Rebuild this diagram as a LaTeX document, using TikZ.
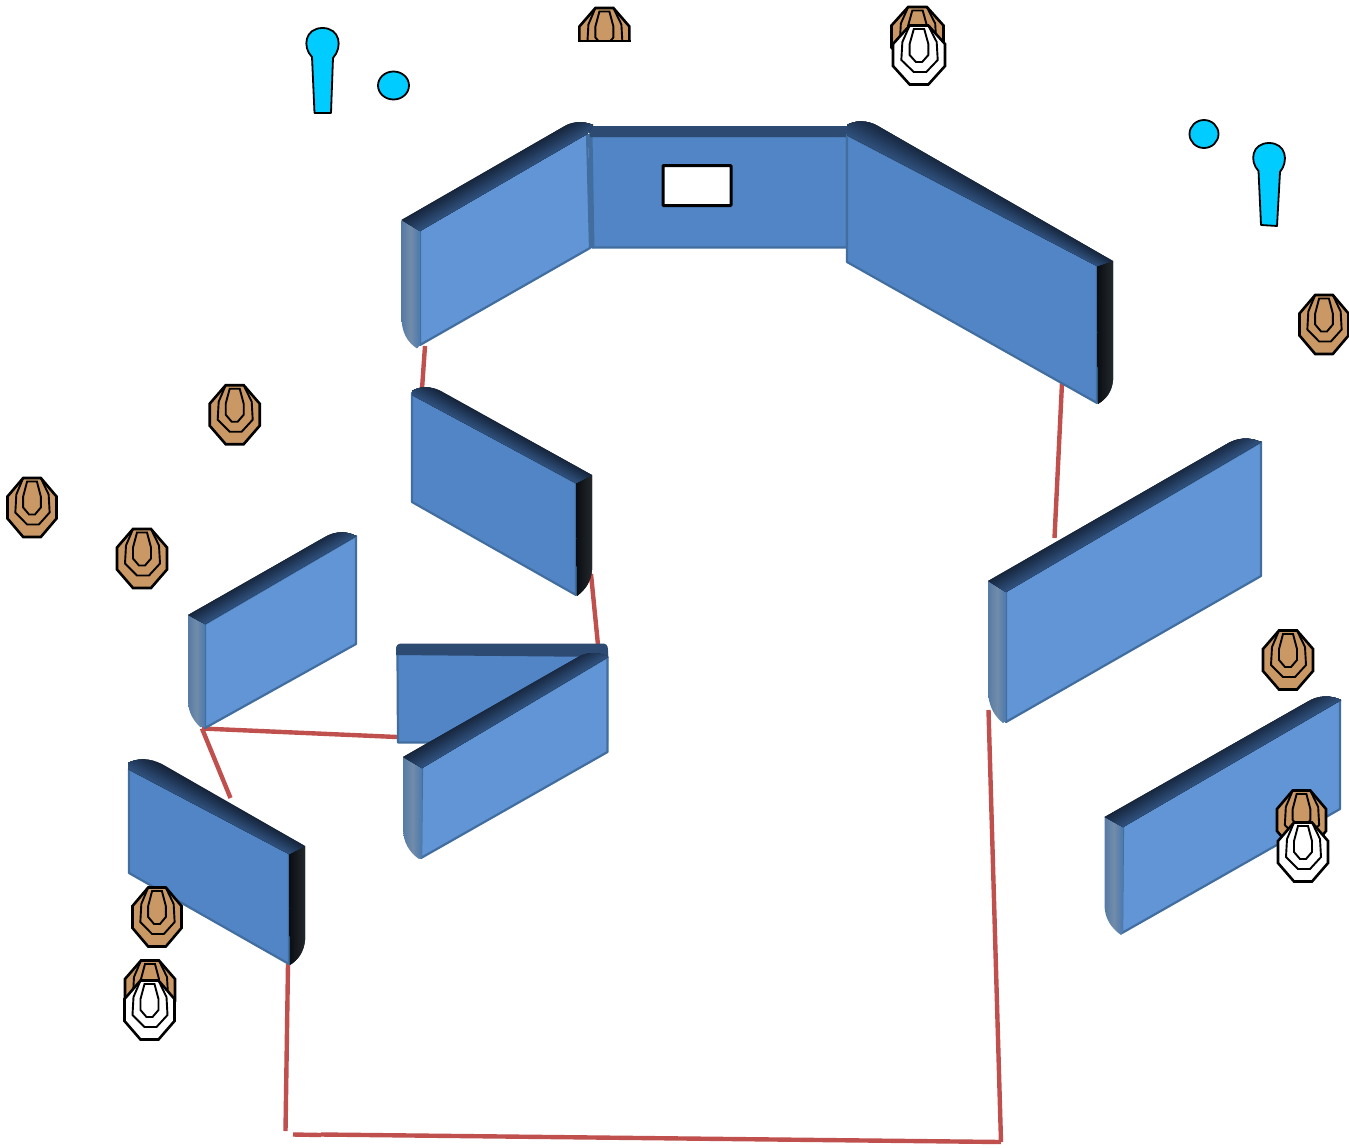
\documentclass[tikz,border=0pt]{standalone}
\usetikzlibrary{calc}
\definecolor{faceL}{HTML}{6295D6}
\definecolor{faceD}{HTML}{5285C6}
\definecolor{wallEdge}{HTML}{416E9F}
\definecolor{stripOut}{HTML}{152238}
\definecolor{stripIn}{HTML}{2E4F7A}
\definecolor{stripFlat}{HTML}{2C4A72}
\definecolor{redLine}{HTML}{C0504D}
\definecolor{pinBlue}{HTML}{00CCFF}
\definecolor{targetBrown}{HTML}{C99864}
\definecolor{greyA}{HTML}{567AA6}
\definecolor{greyB}{HTML}{4C79AE}
\definecolor{greyC}{HTML}{718CA9}
\definecolor{blackA}{HTML}{0A0E12}
\definecolor{blackB}{HTML}{23282D}
\tikzset{
  redline/.style={draw=redLine,line width=4.4pt},
  lightface/.style={fill=faceL,draw=wallEdge,line width=2.2pt,line join=round},
  darkface/.style={fill=faceD,draw=wallEdge,line width=2.2pt,line join=round},
  greyside/.style={left color=greyA,right color=greyB,middle color=greyC},
  blackside/.style={preaction={fill=blackA},left color=blackA,right color=blackB},
  pinshape/.style={fill=pinBlue,draw=black,line width=1.8pt,line join=round},
  ring/.style={draw=black,line width=1.9pt,line join=miter},
  outerring/.style={draw=black,line width=2.6pt,line join=miter}
}
% strip: clip path, outer edge P Q, inner edge R S
\newcommand{\wallstrip}[5]{%
  \begin{scope}
    \clip #1;
    \fill[stripOut] ($#2!-0.6!#4$) -- ($#3!-0.6!#5$) -- ($#3!1.2!#5$) -- ($#2!1.2!#4$) -- cycle;
    \foreach \i in {1,...,12}{
      \pgfmathsetmacro{\aa}{(\i-1)/12}
      \pgfmathsetmacro{\pp}{\i/12*100}
      \fill[stripIn!\pp!stripOut] ($#2!\aa!#4$) -- ($#3!\aa!#5$) -- ($#3!1.2!#5$) -- ($#2!1.2!#4$) -- cycle;
    }
  \end{scope}}
% target: [xscale] x y fill
\newcommand{\targetbody}[4][1]{%
  \begin{scope}[shift={(#2,#3)},xscale=#1]
    \draw[outerring,fill=#4] (-9,-29.5)--(9,-29.5)--(25,-11)--(25,11)--(9,29.5)--(-9,29.5)--(-25,11)--(-25,-11)--cycle;
    \draw[ring] (-9,-29.5)--(-16,-13)--(-17,5)--(-5,17)--(7,17)--(18,5)--(17,-13)--(9,-29.5);
    \draw[ring] (-5,-26)--(-9,-11)--(-9,0)--(-3,7)--(3,7)--(9,0)--(9,-11)--(5,-26)--cycle;
  \end{scope}}
\begin{document}
\begin{tikzpicture}[x=1pt,y=-1pt]
\useasboundingbox (0,0) rectangle (1349,1148);
\fill[white] (0,0) rectangle (1349,1148);

% connector end points
\coordinate (r1a) at (425,346); \coordinate (r1b) at (422,389);
\coordinate (r2a) at (1062,383); \coordinate (r2b) at (1054.5,538);
\coordinate (r3a) at (591,574); \coordinate (r3b) at (598,645);
\coordinate (r4a) at (202,728.5); \coordinate (r4b) at (397,737);
\coordinate (r5a) at (202,728.5); \coordinate (r5b) at (230.5,798);
\coordinate (r6a) at (288,964); \coordinate (r6b) at (285.5,1131);
\coordinate (r7a) at (293,1134.5); \coordinate (r7b) at (321,1135);
\coordinate (r8a) at (321,1134.5); \coordinate (r8c) at (1001,1142);
\coordinate (r9a) at (988.5,710);
\draw[redline] (r1a)--(r1b);
\draw[redline] (r2a)--(r2b);
\draw[redline] (r3a)--(r3b);
\draw[redline] (r4a)--(r4b);
\draw[redline] (r5a)--(r5b);
\draw[redline] (r6a)--(r6b);
\draw[redline] (r7a)--(r7b);
\draw[redline] (r8a)--(r8c);
\draw[redline] (r9a)--(r8c);

% wall B (centre back)
\draw[darkface] (590,136)--(847,136)--(847,247.5)--(592,247.5)--cycle;
\fill[wallEdge] (588,134)--(592.5,134)--(594.5,248)--(590,248)--cycle;
\fill[stripFlat] (588,126)--(848,126)--(848,137)--(590,137)--cycle;
\node[draw=black,fill=white,line width=3pt,rounded corners=0.8pt,minimum width=68pt,minimum height=40pt,inner sep=0pt] (window) at (697,185.5) {};

% wall A
\draw[lightface] (420,229)--(587,133)--(590,248)--(420,345)--cycle;
\shade[greyside] (401.5,220)--(420,230)--(420,345)--(417,348.5) .. controls (407,342) and (401.5,332) .. (401.5,317)--cycle;
\wallstrip{(401.5,220)--(563,127) .. controls (572,121) and (584,121) .. (593,125)--(587,134)--(420,231)--cycle}{(401.5,220)}{(600,105.6)}{(420,231)}{(610,121)}

% wall C
\draw[darkface] (847,135)--(1097,265)--(1097,403)--(847,262)--cycle;
\shade[blackside] (1097,264)--(1113,261)--(1113,380) .. controls (1112,392) and (1106,399) .. (1098,404)--cycle;
\wallstrip{(847,125) .. controls (855,120) and (868,120) .. (878,126)--(1113,261)--(1097,266)--(847,135)--cycle}{(838,100.5)}{(1113,261)}{(817,119.4)}{(1097,266)}

% wall D
\draw[darkface] (412,393)--(576,483)--(576,595)--(412,502)--cycle;
\shade[blackside] (576,482)--(592,475)--(592,570) .. controls (591,582) and (585,590) .. (577,596)--cycle;
\wallstrip{(412,391) .. controls (420,386) and (431,386) .. (441,391)--(592,475)--(576,483)--(412,395)--cycle}{(411,375)}{(592,475)}{(392,384)}{(576,483)}

% wall E
\draw[lightface] (205,624)--(356,536)--(356,644)--(205,728)--cycle;
\shade[greyside] (188,615)--(205,624)--(205,727)--(200,727) .. controls (193,720) and (188,712) .. (188,700)--cycle;
\wallstrip{(188,615)--(325,537) .. controls (335,531) and (347,531) .. (356,536)--(205,624)--cycle}{(188,615)}{(363,513)}{(205,624)}{(381,521.5)}

% wall F (behind G)
\draw[darkface] (397.5,654)--(607,654)--(607,742)--(398,742.5)--cycle;
\fill[stripFlat] (396,655)--(396,649) .. controls (396,645) and (398,643.5) .. (402,643.5)--(602,643.5) .. controls (606,643.5) and (608,645) .. (608,650)--(608,657)--(396,655)--cycle;

% wall G
\draw[lightface] (422,767)--(607.5,657)--(607.5,752)--(421,858)--cycle;
\shade[greyside] (403,757)--(422,767)--(422,857)--(419,859) .. controls (409,852) and (403,842) .. (403,828)--cycle;
\wallstrip{(403,757)--(580,656) .. controls (588,652) and (600,652) .. (608,657)--(422,768)--cycle}{(403,757)}{(615,633)}{(422,768)}{(633,642)}

% wall H
\draw[lightface] (1006,591)--(1261,442)--(1261,576)--(1006,722)--cycle;
\shade[greyside] (988,581)--(1006,591)--(1006,721)--(1003,723) .. controls (994,716) and (988,705) .. (988,690)--cycle;
\wallstrip{(988,581)--(1225,445) .. controls (1237,437) and (1250,437) .. (1261,442)--(1006,592)--cycle}{(988,581)}{(1268,418)}{(1006,592)}{(1286,427)}

% wall I
\draw[lightface] (1123,826)--(1340,700)--(1340,809)--(1122,933)--cycle;
\shade[greyside] (1104.5,817)--(1123,826)--(1123,933)--(1121,935) .. controls (1111,928) and (1104.5,918) .. (1104.5,905)--cycle;
\wallstrip{(1104.5,817)--(1307,702) .. controls (1318,695) and (1331,695) .. (1341,700)--(1123,827)--cycle}{(1104.5,817)}{(1347,676)}{(1123,827)}{(1366,685)}

% wall J
\draw[darkface] (129,769)--(289,853)--(289,964)--(129,873)--cycle;
\shade[blackside] (289,853)--(305,846)--(305,940) .. controls (304,952) and (298,960) .. (290,965)--cycle;
\wallstrip{(128,763) .. controls (137,758) and (150,758) .. (162,764)--(305,846)--(289,854)--(128,769)--cycle}{(126,745)}{(305,846)}{(108,758)}{(289,854)}

% pins
\draw[pinshape] (312,57) .. controls (302,47) and (305,28) .. (322.5,28) .. controls (340,28) and (343,47) .. (333,58)--(331,113)--(314.5,113)--cycle;
\draw[pinshape] (393.5,85.5) ellipse [x radius=15.5,y radius=14];
\draw[pinshape] (1204,134) ellipse [x radius=14.5,y radius=14];
\draw[pinshape] (1258.5,171) .. controls (1249,161) and (1252,143) .. (1269,143) .. controls (1286,143) and (1289,161) .. (1280,172)--(1277,226)--(1261,225)--cycle;

% targets
\targetbody{234.7}{414.7}{targetBrown}
\targetbody[0.98]{32}{507.5}{targetBrown}
\targetbody{142}{558.5}{targetBrown}
\targetbody[0.98]{1324}{324.5}{targetBrown}
\targetbody{1288}{660}{targetBrown}
\targetbody[0.98]{157}{917}{targetBrown}
\begin{scope}
  \clip (570,0) rectangle (640,41);
  \targetbody{604.4}{37.5}{targetBrown}
\end{scope}
\draw[black,line width=2.6pt] (577.7,41)--(631,41);
\targetbody[1.04]{917.5}{36.5}{targetBrown}
\targetbody[1.04]{919}{55}{white}
\targetbody[0.98]{1301.5}{820}{targetBrown}
\targetbody{1303}{852}{white}
\targetbody{150}{990}{targetBrown}
\targetbody{149.5}{1010}{white}
\end{tikzpicture}
\end{document}
